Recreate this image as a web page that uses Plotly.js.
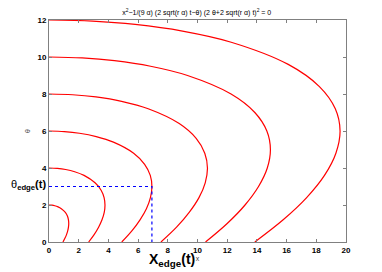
<!DOCTYPE html>
<html><head><meta charset="utf-8">
<script src="https://cdn.plot.ly/plotly-3.0.1.min.js"></script>
<style>html,body{margin:0;padding:0;background:#fff}#chart{width:382px;height:272px}</style>
</head><body><div id="chart"></div>
<script>
// Curves: theta values and x values for each level
const theta1 = [2, 1.99, 1.96, 1.9, 1.8, 1.6, 1.4, 1.2, 1.0, 0.8, 0.6, 0.4, 0.2, 0];
const x1     = [0, 0.20, 0.39, 0.61, 0.83, 1.10, 1.24, 1.31, 1.33, 1.31, 1.26, 1.18, 1.07, 0.94];
const theta2 = [4, 3.98, 3.92, 3.8, 3.6, 3.2, 2.8, 2.4, 2.0, 1.6, 1.2, 0.8, 0.4, 0];
const x2     = [0, 0.56, 1.12, 1.73, 2.36, 3.10, 3.51, 3.71, 3.77, 3.72, 3.57, 3.34, 3.04, 2.67];
const theta3 = [6, 5.97, 5.88, 5.7, 5.4, 4.8, 4.2, 3.6, 3.0, 2.4, 1.8, 1.2, 0.6, 0];
const x3     = [0, 1.04, 2.05, 3.18, 4.34, 5.70, 6.44, 6.82, 6.93, 6.83, 6.56, 6.13, 5.58, 4.90];
const theta4 = [8, 7.96, 7.84, 7.6, 7.2, 6.4, 5.6, 4.8, 4.0, 3.2, 2.4, 1.6, 0.8, 0];
const x4     = [0, 1.59, 3.16, 4.89, 6.68, 8.77, 9.91, 10.49, 10.67, 10.52, 10.10, 9.44, 8.59, 7.54];
const theta5 = [10, 9.95, 9.8, 9.5, 9, 8, 7, 6, 5, 4, 3, 2, 1, 0];
const x5     = [0, 2.23, 4.41, 6.84, 9.33, 12.26, 13.86, 14.67, 14.91, 14.70, 14.11, 13.20, 12.00, 10.54];
const theta6 = [12, 11.94, 11.76, 11.4, 10.8, 9.6, 8.4, 7.2, 6.0, 4.8, 3.6, 2.4, 1.2, 0];
const x6     = [0, 2.93, 5.80, 8.99, 12.27, 16.11, 18.21, 19.28, 19.60, 19.32, 18.55, 17.35, 15.77, 13.86];
// Edge marker (blue dotted)
const edgeX = [0, 6.93, 6.93];
const edgeTheta = [3, 3, 0];
// Ticks
const xTicks = [0, 2, 4, 6, 8, 10, 12, 14, 16, 18, 20];
const yTicks = [0, 2, 4, 6, 8, 10, 12];

const curves = [[x1, theta1], [x2, theta2], [x3, theta3], [x4, theta4], [x5, theta5], [x6, theta6]];
const traces = curves.map(([x, y]) => ({
  x: x, y: y, type: 'scatter', mode: 'lines',
  line: {color: '#ff0000', width: 1.2, shape: 'spline', smoothing: 1},
  hoverinfo: 'skip', showlegend: false
}));
traces.push({
  x: edgeX, y: edgeTheta, type: 'scatter', mode: 'lines',
  line: {color: '#0000ff', width: 1.2, dash: 'dot'},
  hoverinfo: 'skip', showlegend: false
});

const tickFont = {family: 'Liberation Sans, Arial, sans-serif', size: 8, color: '#000', weight: 'bold'};
const axisCommon = {
  showgrid: false, zeroline: false, showline: true, linecolor: '#808080', linewidth: 1,
  mirror: 'ticks', ticks: 'inside', ticklen: 3, tickcolor: '#808080', tickwidth: 1,
  tickfont: tickFont
};

const layout = {
  width: 382, height: 272,
  margin: {l: 49, r: 36, t: 20, b: 30},
  paper_bgcolor: '#fff', plot_bgcolor: '#fff',
  title: {
    text: 'x<sup>2</sup>\u22121/(9 \u03b1) (2 sqrt(r \u03b1) t\u2212\u03b8) (2 \u03b8+2 sqrt(r \u03b1) t)<sup>2</sup> = 0',
    font: {family: 'Liberation Sans, Arial, sans-serif', size: 7, color: '#000'},
    x: 0.515, xanchor: 'center', y: 0.955, yanchor: 'middle'
  },
  xaxis: Object.assign({}, axisCommon, {
    range: [0, 20], tickvals: xTicks, ticktext: xTicks.map(String),
    title: {text: 'x', font: {family: 'Liberation Sans, Arial, sans-serif', size: 7, color: '#444'}, standoff: 0}
  }),
  yaxis: Object.assign({}, axisCommon, {
    range: [0, 12], tickvals: yTicks, ticktext: yTicks.map(String),
    title: {text: '\u03b8', font: {family: 'Liberation Sans, Arial, sans-serif', size: 7, color: '#444'}, standoff: 6}
  }),
  annotations: [
    {xref: 'paper', yref: 'y', x: -0.005, y: 3.1, xanchor: 'right', yanchor: 'middle', showarrow: false,
     text: '\u03b8<sub><b>edge</b></sub><b>(t)</b>',
     font: {family: 'Liberation Sans, Arial, sans-serif', size: 11, color: '#000'}},
    {xref: 'x', yref: 'paper', x: 8.3, y: -0.03, xanchor: 'center', yanchor: 'top', showarrow: false,
     text: '<b>X<sub>edge</sub>(t)</b>',
     font: {family: 'Liberation Sans, Arial, sans-serif', size: 14, color: '#000'}}
  ]
};

Plotly.newPlot('chart', traces, layout, {displayModeBar: false, staticPlot: true});
</script></body></html>
